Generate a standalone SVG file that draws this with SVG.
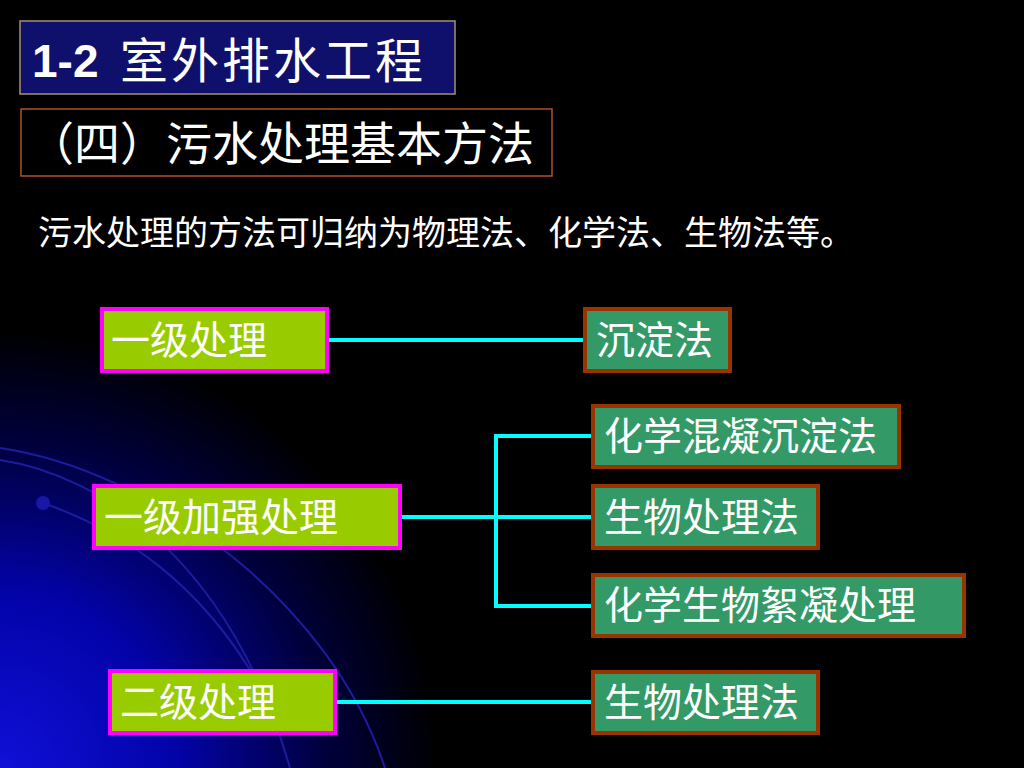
<svg xmlns="http://www.w3.org/2000/svg" width="1024" height="768" viewBox="0 0 1024 768">
<defs>
<radialGradient id="bg" cx="0" cy="768" r="440" gradientUnits="userSpaceOnUse">
<stop offset="0" stop-color="#1010d8"/>
<stop offset="0.4" stop-color="#0303a8"/>
<stop offset="0.75" stop-color="#00003a"/>
<stop offset="1" stop-color="#000000"/>
</radialGradient>
<style>
.cn{font-family:"Noto Sans CJK SC","Noto Sans CJK TC",sans-serif;fill:#ffffff}
.lime{fill:#99cc00;stroke:#ff00ff;stroke-width:4}
.green{fill:#339966;stroke:#993300;stroke-width:4}
.lbl{font-size:39px}
.conn{stroke:#00ffff;stroke-width:4;fill:none}
.arc{stroke:#1c1c9c;stroke-width:2;fill:none}
</style>
</defs>
<rect x="0" y="0" width="1024" height="768" fill="#000"/>
<rect x="0" y="0" width="1024" height="768" fill="url(#bg)"/>
<g id="decor">
<path class="arc" d="M0 448 C150 470 330 600 385 768"/>
<path class="arc" d="M0 460 C100 475 230 560 290 768"/>
<path class="arc" d="M43 503 C120 530 200 580 262 690"/>
<circle cx="43" cy="503" r="7" fill="#1818a8"/>
</g>
<g id="title">
<rect x="20" y="21" width="435" height="73" fill="#0f0f6c" stroke="#a89070" stroke-width="1.5"/>
<text x="32" y="77" font-family="Liberation Sans, Arial, sans-serif" font-weight="bold" font-size="46" fill="#fff">1-2</text>
<text class="cn" x="120" y="78" font-size="48" letter-spacing="3">室外排水工程</text>
</g>
<g id="subtitle">
<rect x="21" y="109" width="531" height="67" fill="none" stroke="#b0502a" stroke-width="1.5"/>
<text class="cn" x="28" y="160" font-size="46">（四）污水处理基本方法</text>
</g>
<text class="cn" x="38" y="245" font-size="34">污水处理的方法可归纳为物理法、化学法、生物法等。</text>
<g id="connectors">
<path class="conn" d="M329 340 H583"/>
<path class="conn" d="M402 517 H591"/>
<path class="conn" d="M496 436 V606 M494 436 H591 M494 606 H591"/>
<path class="conn" d="M337 702 H591"/>
</g>
<g id="n1"><rect class="lime" x="102" y="309" width="225" height="62"/><text class="cn lbl" x="111" y="354">一级处理</text></g>
<g id="n2"><rect class="green" x="585" y="309" width="145" height="62"/><text class="cn lbl" x="596" y="354">沉淀法</text></g>
<g id="n3"><rect class="lime" x="94" y="486" width="306" height="62"/><text class="cn lbl" x="104" y="531">一级加强处理</text></g>
<g id="n4"><rect class="green" x="593" y="406" width="306" height="61"/><text class="cn lbl" x="604" y="450">化学混凝沉淀法</text></g>
<g id="n5"><rect class="green" x="593" y="486" width="225" height="62"/><text class="cn lbl" x="604" y="531">生物处理法</text></g>
<g id="n6"><rect class="green" x="593" y="575" width="371" height="61"/><text class="cn lbl" x="604" y="619">化学生物絮凝处理</text></g>
<g id="n7"><rect class="lime" x="110" y="671" width="225" height="62"/><text class="cn lbl" x="120" y="716">二级处理</text></g>
<g id="n8"><rect class="green" x="593" y="672" width="225" height="61"/><text class="cn lbl" x="604" y="716">生物处理法</text></g>
</svg>
